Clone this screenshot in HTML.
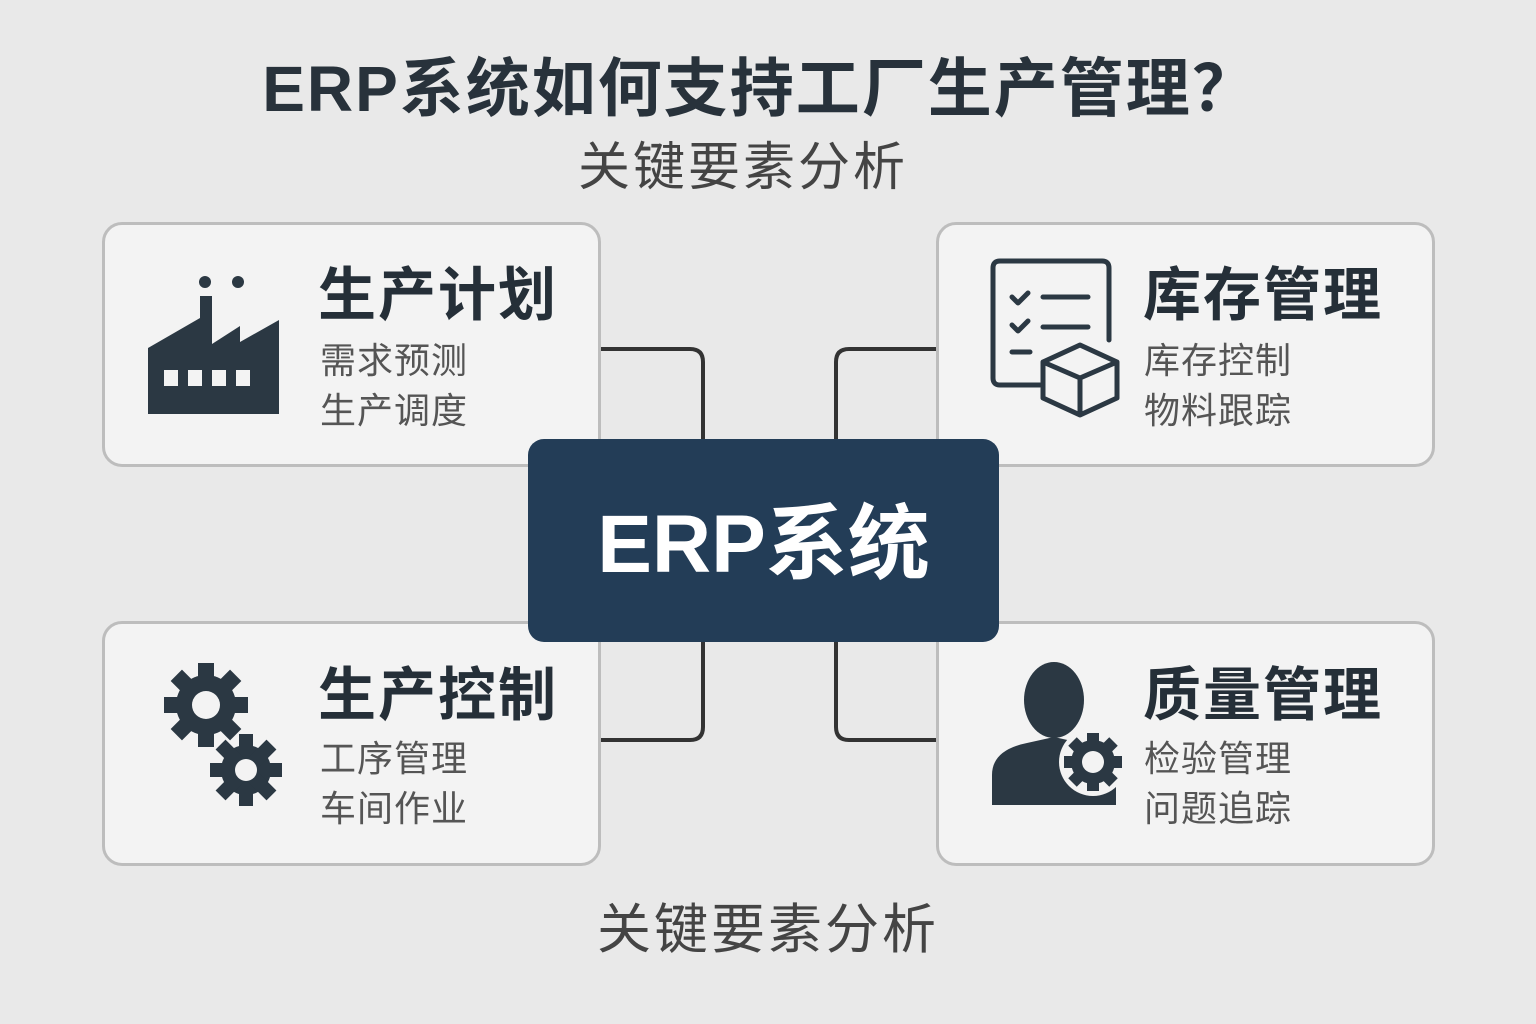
<!DOCTYPE html>
<html><head><meta charset="utf-8"><style>
body{margin:0;width:1536px;height:1024px;background:#e9e9e9;font-family:"Liberation Sans","Noto Sans CJK SC",sans-serif;position:relative;overflow:hidden}
.t{position:absolute;white-space:nowrap}
.box{position:absolute;width:499px;height:245px;background:#f3f3f3;border:3px solid #bdbdbd;border-radius:20px;box-sizing:border-box}
.h{position:absolute;font-size:58px;font-weight:bold;color:#252f38;letter-spacing:2px;white-space:nowrap}
.s{position:absolute;font-size:36px;color:#555;line-height:50px;white-space:nowrap;letter-spacing:1px}
</style></head><body>
<div class="t" style="left:0;width:1520px;text-align:center;top:38px;font-size:64px;font-weight:bold;color:#28323b;letter-spacing:2px">ERP系统如何支持工厂生产管理？</div>
<div class="t" style="left:0;width:1486px;text-align:center;top:125px;font-size:52px;color:#444;letter-spacing:3px">关键要素分析</div>
<svg style="position:absolute;left:0;top:0" width="1536" height="1024">
<g fill="none" stroke="#333" stroke-width="4">
<path d="M598 349 H690 q13 0 13 13 V445"/>
<path d="M938 349 H849 q-13 0 -13 13 V445"/>
<path d="M703 635 V727 q0 13 -13 13 H598"/>
<path d="M836 635 V727 q0 13 13 13 H938"/>
</g></svg>
<div class="box" style="left:102px;top:222px"></div>
<div class="box" style="left:936px;top:222px"></div>
<div class="box" style="left:102px;top:621px"></div>
<div class="box" style="left:936px;top:621px"></div>
<div style="position:absolute;left:528px;top:439px;width:471px;height:203px;background:#233d57;border-radius:16px"></div>
<div class="t" style="left:528px;width:471px;text-align:center;top:477px;font-size:82px;font-weight:bold;color:#fff">ERP系统</div>

<div class="h" style="left:318px;top:248px">生产计划</div>
<div class="s" style="left:320px;top:336px">需求预测<br>生产调度</div>
<div class="h" style="left:1143px;top:248px">库存管理</div>
<div class="s" style="left:1144px;top:336px">库存控制<br>物料跟踪</div>
<div class="h" style="left:318px;top:648px">生产控制</div>
<div class="s" style="left:320px;top:734px">工序管理<br>车间作业</div>
<div class="h" style="left:1143px;top:648px">质量管理</div>
<div class="s" style="left:1144px;top:734px">检验管理<br>问题追踪</div>

<div class="t" style="left:0;width:1536px;text-align:center;top:885px;font-size:54px;color:#444;letter-spacing:3px">关键要素分析</div>

<svg style="position:absolute;left:0;top:0" width="1536" height="1024">
<g fill="#2b3843">
<path d="M148 414 V348 L200 318 V296 H212 V344 L240 326 V342 L279 320 V414 Z"/>
<circle cx="205" cy="282" r="6"/><circle cx="238" cy="282" r="6"/>
</g>
<g fill="#f3f3f3"><rect x="164" y="370" width="14" height="16"/><rect x="188" y="370" width="14" height="16"/><rect x="212" y="370" width="14" height="16"/><rect x="236" y="370" width="14" height="16"/></g>
<g fill="none" stroke="#2b3843" stroke-width="5" stroke-linecap="round" stroke-linejoin="round">
<path d="M1040 385 H1000 q-7 0 -7 -7 V268 q0 -7 7 -7 H1102 q7 0 7 7 V340"/>
<path d="M1012 297 l6 6 10 -10 M1012 325 l6 6 10 -10"/>
<path d="M1043 297 H1088 M1043 327 H1088 M1012 352 H1030"/>
<path d="M1043 362 L1080 345 L1117 362 V398 L1080 415 L1043 398 Z M1043 362 L1080 378 L1117 362 M1080 378 V415"/>
</g>
<g fill="#2b3843">
<g transform="translate(206,705)"><circle r="30"/><rect x="-8" y="-42" width="16" height="84"/><rect x="-42" y="-8" width="84" height="16"/><g transform="rotate(45)"><rect x="-8" y="-42" width="16" height="84"/><rect x="-42" y="-8" width="84" height="16"/></g><circle r="14" fill="#f3f3f3"/></g>
<g transform="translate(246,770)"><circle r="25"/><rect x="-7" y="-36" width="14" height="72"/><rect x="-36" y="-7" width="72" height="14"/><g transform="rotate(45)"><rect x="-7" y="-36" width="14" height="72"/><rect x="-36" y="-7" width="72" height="14"/></g><circle r="11" fill="#f3f3f3"/></g>
</g>
<g fill="#2b3843">
<ellipse cx="1054" cy="700" rx="30" ry="38"/>
<path d="M992 805 V775 q0 -25 35 -32 l27 -6 27 6 q35 7 35 32 V805 Z"/>
<circle cx="1093" cy="762" r="34" fill="#f3f3f3"/>
<g transform="translate(1093,762)"><circle r="22"/><rect x="-6" y="-29" width="12" height="58"/><rect x="-29" y="-6" width="58" height="12"/><g transform="rotate(45)"><rect x="-6" y="-29" width="12" height="58"/><rect x="-29" y="-6" width="58" height="12"/></g><circle r="11" fill="#f3f3f3"/></g>
</g>
</svg>
</body></html>
